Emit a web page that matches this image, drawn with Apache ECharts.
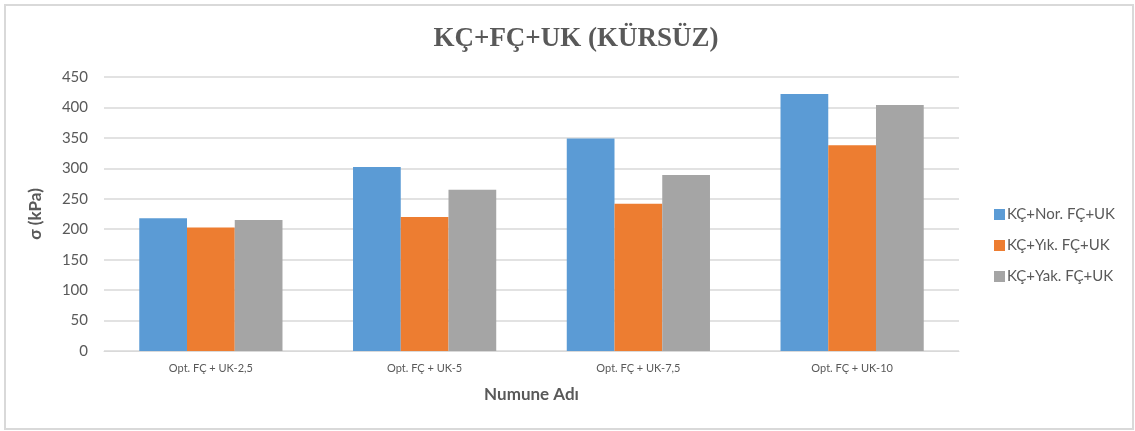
<!DOCTYPE html>
<html>
<head>
<meta charset="utf-8">
<script src="https://cdn.jsdelivr.net/npm/echarts@6/dist/echarts.min.js"></script>
<style>
  html, body { margin: 0; padding: 0; background: #fff; }
  #chart { width: 1135px; height: 431px; }
</style>
</head>
<body>
<div id="chart"></div>
<script>
// Sample names along the x axis
const categories = ['Opt. FÇ + UK-2,5', 'Opt. FÇ + UK-5', 'Opt. FÇ + UK-7,5', 'Opt. FÇ + UK-10'];

// Stress values σ (kPa) per series
const seriesNames = ['KÇ+Nor. FÇ+UK', 'KÇ+Yık. FÇ+UK', 'KÇ+Yak. FÇ+UK'];
const norValues = [218, 302, 349, 422];
const yikValues = [203, 220, 242, 338];
const yakValues = [215, 265, 289, 404];

// Y axis ticks
const yTicks = [0, 50, 100, 150, 200, 250, 300, 350, 400, 450];

const colors = ['#5B9BD5', '#ED7D31', '#A5A5A5'];
const textColor = '#595959';
const uiFont = 'Lato, "Open Sans", sans-serif';

const chart = echarts.init(document.getElementById('chart'));
chart.setOption({
  animation: false,
  backgroundColor: '#fff',
  color: colors,
  graphic: [{
    type: 'rect',
    shape: { x: 5, y: 5, width: 1128, height: 424 },
    style: { fill: 'none', stroke: '#D9D9D9', lineWidth: 2 },
    silent: true
  }],
  title: {
    text: 'KÇ+FÇ+UK (KÜRSÜZ)',
    left: 571,
    top: 21,
    textAlign: 'center',
    textStyle: {
      fontFamily: '"Liberation Serif", "DejaVu Serif", serif',
      fontWeight: 'bold',
      fontSize: 27,
      color: textColor
    }
  },
  legend: {
    orient: 'vertical',
    left: 989,
    top: 202,
    itemWidth: 11,
    itemHeight: 11,
    itemGap: 16,
    icon: 'rect',
    textStyle: { fontFamily: uiFont, fontSize: 15, color: textColor, padding: [0, 0, 0, -3] },
    data: seriesNames
  },
  grid: { left: 104, right: 176, top: 77, bottom: 80, containLabel: false },
  xAxis: {
    type: 'category',
    data: categories,
    name: 'Numune Adı',
    nameLocation: 'middle',
    nameGap: 35,
    nameTextStyle: { fontFamily: uiFont, fontSize: 17, fontWeight: 'bold', color: textColor },
    axisLine: { show: true, lineStyle: { color: '#D9D9D9', width: 1 } },
    axisTick: { show: false },
    axisLabel: { fontFamily: uiFont, fontSize: 11, color: textColor, margin: 12 }
  },
  yAxis: {
    type: 'value',
    min: yTicks[0],
    max: yTicks[yTicks.length - 1],
    interval: yTicks[1] - yTicks[0],
    name: 'σ (kPa)',
    nameLocation: 'middle',
    nameGap: 60,
    nameTextStyle: { fontFamily: uiFont, fontSize: 17, fontWeight: 'bold', color: textColor },
    axisLine: { show: false },
    axisTick: { show: false },
    axisLabel: { fontFamily: uiFont, fontSize: 15, color: textColor, margin: 16 },
    splitLine: { lineStyle: { color: '#D9D9D9', width: 1.5 } }
  },
  series: [
    { name: seriesNames[0], type: 'bar', data: norValues, barGap: '0%', barCategoryGap: '33%' },
    { name: seriesNames[1], type: 'bar', data: yikValues, barGap: '0%', barCategoryGap: '33%' },
    { name: seriesNames[2], type: 'bar', data: yakValues, barGap: '0%', barCategoryGap: '33%' }
  ]
});
</script>
</body>
</html>
